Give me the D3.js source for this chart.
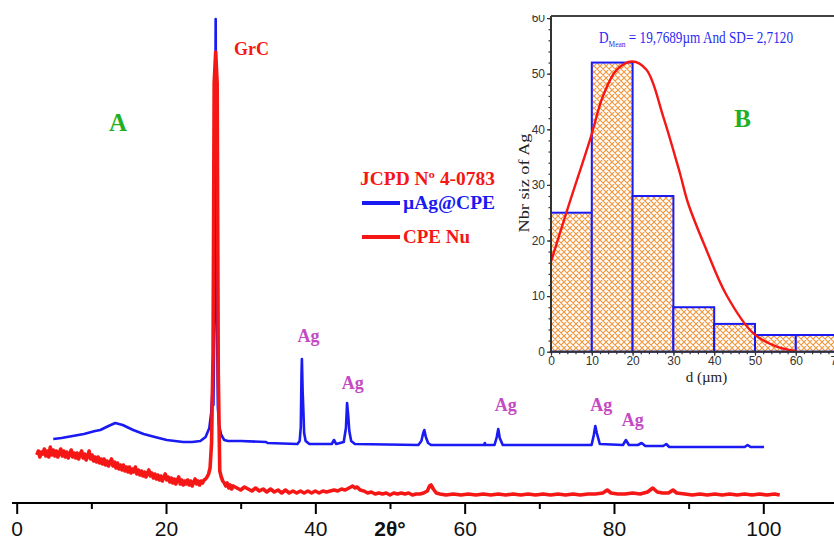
<!DOCTYPE html>
<html>
<head>
<meta charset="utf-8">
<script src="https://d3js.org/d3.v7.min.js"></script>
<style>
  html, body { margin: 0; padding: 0; background: #fff; }
  svg { display: block; }
</style>
</head>
<body>
<svg id="chart" width="834" height="541"></svg>
<script>
// ---- DRX (A) : 2θ en degrés, intensité en unités arbitraires ----
const xTicks = [0, 20, 40, 60, 80, 100];
const xMinorTicks = [10, 30, 50, 70, 90];

// µAg@CPE (bleu)
const blueSpectrum = [
  [4.9, 64], [6.0, 65], [7.5, 67], [9.0, 69], [10.5, 72], [11.2, 73], [12.3, 77], [13.2, 80],
  [14.2, 78], [15.6, 73], [17.0, 69], [18.5, 66], [20.1, 63], [22.3, 61], [23.5, 61], [24.6, 62],
  [25.3, 66], [25.8, 75], [26.05, 90], [26.2, 111], [26.35, 98], [26.5, 200], [26.65, 484],
  [26.8, 200], [26.95, 95], [27.1, 78], [27.4, 68], [27.8, 63], [28.3, 62], [30, 62], [33.4, 61],
  [33.6, 60], [37.6, 59], [37.9, 62], [38.05, 76], [38.15, 130], [38.2, 144], [38.3, 112],
  [38.4, 92], [38.5, 70], [38.7, 62], [39.2, 59], [42.2, 59], [42.5, 63], [42.8, 59], [43.8, 61],
  [44.1, 75], [44.25, 100], [44.4, 88], [44.55, 72], [44.8, 62], [45.3, 59], [53.8, 58],
  [54.2, 62], [54.45, 70], [54.6, 73], [54.8, 66], [55.1, 60], [55.5, 58], [62.6, 58], [62.7, 60],
  [62.8, 58], [64.0, 58], [64.3, 66], [64.5, 74], [64.7, 65], [65.1, 58], [77.0, 58], [77.3, 68],
  [77.5, 77], [77.7, 70], [78.1, 59], [81.2, 58], [81.6, 63], [82.0, 58], [83.2, 58], [83.7, 60],
  [84.2, 57], [86.6, 57], [87.0, 59], [87.4, 56], [97.5, 56], [97.9, 58], [98.3, 56], [100.1, 56]
];

// CPE Nu (rouge)
const redSpectrum = [
  [2.7, 48], [2.9, 52], [3.1, 46], [3.3, 51], [3.5, 49], [3.7, 54], [3.9, 47], [4.1, 52], [4.3, 46],
  [4.5, 56], [4.7, 48], [4.9, 53], [5.1, 47], [5.3, 52], [5.5, 46], [5.7, 50], [5.9, 54], [6.1, 47],
  [6.3, 52], [6.5, 46], [6.7, 51], [6.9, 45], [7.1, 49], [7.3, 53], [7.5, 46], [7.7, 50], [7.9, 45],
  [8.1, 50], [8.3, 44], [8.5, 49], [8.7, 52], [8.9, 45], [9.1, 49], [9.3, 43], [9.5, 47], [9.7, 52],
  [9.9, 44], [10.1, 48], [10.3, 42], [10.5, 46], [10.7, 41], [10.9, 46], [11.1, 40], [11.3, 44],
  [11.5, 39], [11.7, 44], [11.9, 38], [12.1, 42], [12.3, 37], [12.5, 41], [12.7, 44], [12.9, 37],
  [13.1, 41], [13.3, 35], [13.5, 40], [13.7, 34], [13.9, 38], [14.1, 33], [14.3, 38], [14.5, 32],
  [14.7, 36], [14.9, 31], [15.1, 36], [15.3, 30], [15.5, 34], [15.7, 31], [15.9, 36], [16.1, 29],
  [16.3, 33], [16.5, 28], [16.7, 32], [16.9, 27], [17.1, 31], [17.3, 26], [17.5, 30], [17.7, 33],
  [17.9, 27], [18.1, 30], [18.3, 25], [18.5, 29], [18.7, 24], [18.9, 28], [19.1, 23], [19.3, 27],
  [19.5, 22], [19.7, 26], [19.9, 29], [20.1, 23], [20.3, 26], [20.5, 21], [20.7, 25], [20.9, 20],
  [21.1, 24], [21.3, 19], [21.5, 23], [21.7, 26], [21.9, 19], [22.1, 23], [22.3, 18], [22.5, 22],
  [22.7, 19], [22.9, 23], [23.1, 18], [23.3, 22], [23.5, 17], [23.7, 21], [23.9, 24], [24.1, 19],
  [24.3, 22], [24.5, 18], [24.7, 22], [24.9, 20], [25.1, 23], [25.3, 24], [25.5, 26], [25.7, 29],
  [25.9, 35], [26.1, 60], [26.3, 150], [26.45, 420], [26.65, 451], [26.85, 420], [27.0, 130],
  [27.2, 32], [27.4, 26], [27.6, 22], [27.8, 20], [28.0, 17], [28.2, 20], [28.4, 15], [28.6, 18],
  [28.8, 14], [29.0, 17], [29.5, 15], [30.0, 13], [30.5, 16], [31.0, 14], [31.5, 12], [32.0, 15],
  [32.5, 12], [33.0, 14], [33.5, 11], [34.0, 14], [34.5, 11], [35.0, 13], [35.5, 10], [36.0, 13],
  [36.5, 10], [37.0, 12], [37.5, 10], [38.0, 12], [38.5, 10], [39.0, 12], [39.5, 10], [40.0, 12],
  [40.5, 10], [41.0, 12], [41.5, 11], [42.0, 12], [42.5, 13], [43.0, 12], [43.5, 14], [44.0, 13],
  [44.5, 15], [45.0, 17], [45.3, 15], [45.6, 16], [46.0, 13], [46.5, 12], [47.0, 10], [47.5, 11],
  [48.0, 9], [48.5, 10], [49.0, 9], [49.5, 10], [50.0, 8], [50.5, 10], [51.0, 9], [51.5, 10],
  [52.0, 9], [52.5, 10], [53.0, 8], [53.5, 9], [54.0, 9], [54.5, 10], [55.0, 12], [55.3, 17],
  [55.5, 18], [55.8, 14], [56.2, 10], [56.7, 9], [57.5, 8], [58.5, 9], [59.5, 8], [60.5, 9],
  [61.5, 8], [62.5, 9], [63.5, 8], [64.5, 9], [65.5, 8], [66.5, 9], [67.5, 8], [68.5, 9], [69.5, 8],
  [70.5, 9], [71.5, 8], [72.5, 9], [73.5, 8], [74.5, 9], [75.5, 8], [76.5, 9], [77.5, 9], [78.5, 10],
  [79.1, 13], [79.6, 10], [80.5, 9], [81.5, 9], [82.5, 10], [83.5, 9], [84.5, 11], [85.2, 15],
  [85.8, 11], [86.5, 10], [87.3, 10], [87.9, 13], [88.4, 10], [89.5, 9], [90.5, 8], [91.5, 9],
  [92.5, 8], [93.5, 9], [94.5, 8], [95.5, 9], [96.5, 8], [97.5, 9], [98.5, 8], [99.5, 9],
  [100.5, 8], [101.5, 9], [102.2, 8]
];

const agLabelAngles = [39.1, 45.0, 65.5, 78.3, 82.5];
const agLabelLevels = [161, 114, 92, 92, 77];

// ---- Histogramme (B) ----
const sizeBinStarts = [0, 10, 20, 30, 40, 50, 60];
const sizeBinWidth = 10;
const sizeCounts = [25, 52, 28, 8, 5, 3, 3];
const fitD = [0, 4.2, 9.8, 12.7, 16.1, 19.9, 23.4, 27.5, 31.6, 33.6, 38.1, 43.0, 49.6, 55.3, 60.2];
const fitN = [16.2, 26, 38.7, 45.9, 50.7, 52.2, 50.7, 42.3, 32.1, 26.7, 18.3, 10.2, 3.3, 0.9, 0.1];
const insetXTicks = [0, 10, 20, 30, 40, 50, 60, 70];
const insetYTicks = [0, 10, 20, 30, 40, 50, 60];

const BLUE = '#1a1af2';
const RED = '#f51616';
const AG = '#c44ac4';
const GREEN = '#22b022';
const SERIF = '"Liberation Serif", "Times New Roman", serif';
const SANS = '"Liberation Sans", Arial, sans-serif';

const svg = d3.select('#chart');

// ---------- panneau A ----------
const x = d3.scaleLinear().domain([0, 100]).range([16.7, 763.3]);
const y = d3.scaleLinear().domain([0, 500]).range([503, 3]);

const line = d3.line()
  .x(d => x(d[0]))
  .y(d => y(d[1]));

svg.append('path')
  .datum(blueSpectrum)
  .attr('d', line)
  .attr('fill', 'none')
  .attr('stroke', BLUE)
  .attr('stroke-width', 2.6)
  .attr('stroke-linejoin', 'round');

svg.append('path')
  .datum(redSpectrum)
  .attr('d', line)
  .attr('fill', 'none')
  .attr('stroke', RED)
  .attr('stroke-width', 3.6)
  .attr('stroke-linejoin', 'round');

// axe des x
const axisG = svg.append('g').attr('transform', 'translate(0,503)');
axisG.call(d3.axisBottom(x).tickValues(xTicks).tickSize(11).tickPadding(7).tickFormat(d3.format('d')));
axisG.call(g => g.select('.domain').remove());
axisG.selectAll('.tick line').attr('stroke', '#000').attr('stroke-width', 2);
axisG.selectAll('.tick text')
  .attr('font-family', SANS)
  .attr('font-size', 21)
  .attr('fill', '#111');

const minorG = svg.append('g').attr('transform', 'translate(0,503)');
minorG.call(d3.axisBottom(x).tickValues(xMinorTicks).tickSize(6).tickFormat(''));
minorG.call(g => g.select('.domain').remove());
minorG.selectAll('.tick line').attr('stroke', '#000').attr('stroke-width', 2);

svg.append('line')
  .attr('x1', 12).attr('x2', 834)
  .attr('y1', 503).attr('y2', 503)
  .attr('stroke', '#000')
  .attr('stroke-width', 2);

svg.append('text')
  .attr('x', 390).attr('y', 536)
  .attr('text-anchor', 'middle')
  .attr('font-family', SANS)
  .attr('font-weight', 'bold')
  .attr('font-size', 21)
  .attr('fill', '#111')
  .text('2θ°');

// étiquettes
svg.selectAll('text.ag')
  .data(agLabelAngles)
  .enter()
  .append('text')
  .attr('class', 'ag')
  .attr('x', d => x(d))
  .attr('y', (d, i) => y(agLabelLevels[i]))
  .attr('text-anchor', 'middle')
  .attr('font-family', SERIF)
  .attr('font-weight', 'bold')
  .attr('font-size', 18)
  .attr('fill', AG)
  .text('Ag');

svg.append('text')
  .attr('x', 234).attr('y', 55)
  .attr('font-family', SERIF).attr('font-weight', 'bold').attr('font-size', 18)
  .attr('fill', RED)
  .text('GrC');

svg.append('text')
  .attr('x', 118).attr('y', 131)
  .attr('text-anchor', 'middle')
  .attr('font-family', SERIF).attr('font-weight', 'bold').attr('font-size', 25)
  .attr('fill', GREEN)
  .text('A');

// légende
svg.append('text')
  .attr('x', 360).attr('y', 185)
  .attr('font-family', SERIF).attr('font-weight', 'bold').attr('font-size', 18)
  .attr('textLength', 135).attr('lengthAdjust', 'spacingAndGlyphs')
  .attr('fill', RED)
  .text('JCPD Nº 4-0783');

const legendItems = [
  { label: 'µAg@CPE', color: BLUE, y: 203, w: 92 },
  { label: 'CPE Nu', color: RED, y: 237, w: 67 }
];
legendItems.forEach(item => {
  svg.append('line')
    .attr('x1', 362).attr('x2', 400)
    .attr('y1', item.y).attr('y2', item.y)
    .attr('stroke', item.color)
    .attr('stroke-width', 4);
  svg.append('text')
    .attr('x', 403).attr('y', item.y + 6)
    .attr('font-family', SERIF).attr('font-weight', 'bold').attr('font-size', 18)
    .attr('textLength', item.w).attr('lengthAdjust', 'spacingAndGlyphs')
    .attr('fill', item.color)
    .text(item.label);
});

// ---------- panneau B (encart) ----------
const xIn = d3.scaleLinear().domain([0, 70]).range([551, 836.6]);
const yIn = d3.scaleLinear().domain([0, 60]).range([351.7, 18.1]);

const defs = svg.append('defs');
const pat = defs.append('pattern')
  .attr('id', 'hatch')
  .attr('patternUnits', 'userSpaceOnUse')
  .attr('width', 6).attr('height', 6);
pat.append('rect').attr('width', 6).attr('height', 6).attr('fill', '#fff');
pat.append('path')
  .attr('d', 'M0,0L6,6M6,0L0,6M-1,5L1,7M5,-1L7,1M-1,1L1,-1M5,7L7,5')
  .attr('stroke', '#f5963a')
  .attr('stroke-width', 1.1);

defs.append('clipPath').attr('id', 'insetClip')
  .append('rect').attr('x', 500).attr('y', 15).attr('width', 334).attr('height', 380);

const inset = svg.append('g').attr('clip-path', 'url(#insetClip)');

inset.selectAll('rect.bin')
  .data(sizeCounts)
  .enter()
  .append('rect')
  .attr('class', 'bin')
  .attr('x', (d, i) => xIn(sizeBinStarts[i]))
  .attr('y', d => yIn(d))
  .attr('width', (d, i) => xIn(sizeBinStarts[i] + sizeBinWidth) - xIn(sizeBinStarts[i]))
  .attr('height', d => yIn(0) - yIn(d))
  .attr('fill', 'url(#hatch)')
  .attr('stroke', BLUE)
  .attr('stroke-width', 2);

const fitLine = d3.line()
  .x((d, i) => xIn(d))
  .y((d, i) => yIn(fitN[i]))
  .curve(d3.curveCatmullRom);

inset.append('path')
  .datum(fitD)
  .attr('d', fitLine)
  .attr('fill', 'none')
  .attr('stroke', RED)
  .attr('stroke-width', 2.4);

// axes de l'encart
const inX = inset.append('g').attr('transform', `translate(0,${yIn(0)})`);
inX.call(d3.axisBottom(xIn).tickValues(insetXTicks).tickSize(4).tickPadding(1).tickFormat(d3.format('d')));
inX.call(g => g.select('.domain').remove());
const inXMinor = inset.append('g').attr('transform', `translate(0,${yIn(0)})`);
inXMinor.call(d3.axisBottom(xIn).tickValues(d3.range(0, 71, 2)).tickSize(2.5).tickFormat(''));
inXMinor.call(g => g.select('.domain').remove());

const inY = inset.append('g').attr('transform', `translate(${xIn(0)},0)`);
inY.call(d3.axisLeft(yIn).tickValues(insetYTicks).tickSize(4).tickPadding(2).tickFormat(d3.format('d')));
inY.call(g => g.select('.domain').remove());
const inYMinor = inset.append('g').attr('transform', `translate(${xIn(0)},0)`);
inYMinor.call(d3.axisLeft(yIn).tickValues(d3.range(0, 61, 2)).tickSize(2.5).tickFormat(''));
inYMinor.call(g => g.select('.domain').remove());

inset.selectAll('.tick line').attr('stroke', '#333').attr('stroke-width', 1.2);
inset.selectAll('.tick text')
  .attr('font-family', SANS)
  .attr('font-size', 12)
  .attr('fill', '#333');

inset.append('line')
  .attr('x1', xIn(0)).attr('x2', 834).attr('y1', yIn(0)).attr('y2', yIn(0))
  .attr('stroke', '#333').attr('stroke-width', 2);
inset.append('line')
  .attr('x1', xIn(0)).attr('x2', xIn(0)).attr('y1', 16).attr('y2', yIn(0))
  .attr('stroke', '#333').attr('stroke-width', 2);
inset.append('line')
  .attr('x1', xIn(0)).attr('x2', 834).attr('y1', 16).attr('y2', 16)
  .attr('stroke', '#444').attr('stroke-width', 2);

inset.append('text')
  .attr('x', 706.5).attr('y', 382)
  .attr('text-anchor', 'middle')
  .attr('font-family', SERIF).attr('font-size', 15)
  .attr('fill', '#222')
  .text('d (µm)');

inset.append('text')
  .attr('transform', 'translate(529,183) rotate(-90)')
  .attr('text-anchor', 'middle')
  .attr('font-family', SERIF).attr('font-size', 14)
  .attr('textLength', 99).attr('lengthAdjust', 'spacingAndGlyphs')
  .attr('fill', '#222')
  .text('Nbr siz of  Ag');

const meanText = inset.append('text')
  .attr('x', 599).attr('y', 43)
  .attr('font-family', SERIF).attr('font-size', 16)
  .attr('textLength', 194).attr('lengthAdjust', 'spacingAndGlyphs')
  .attr('fill', '#2b2bf0');
meanText.append('tspan').text('D');
meanText.append('tspan').attr('font-size', 9).attr('dy', 4).text('Mean');
meanText.append('tspan').attr('dy', -4).text(' = 19,7689µm And  SD= 2,7120');

inset.append('text')
  .attr('x', 742.5).attr('y', 127)
  .attr('text-anchor', 'middle')
  .attr('font-family', SERIF).attr('font-weight', 'bold').attr('font-size', 25)
  .attr('fill', GREEN)
  .text('B');
</script>
</body>
</html>
